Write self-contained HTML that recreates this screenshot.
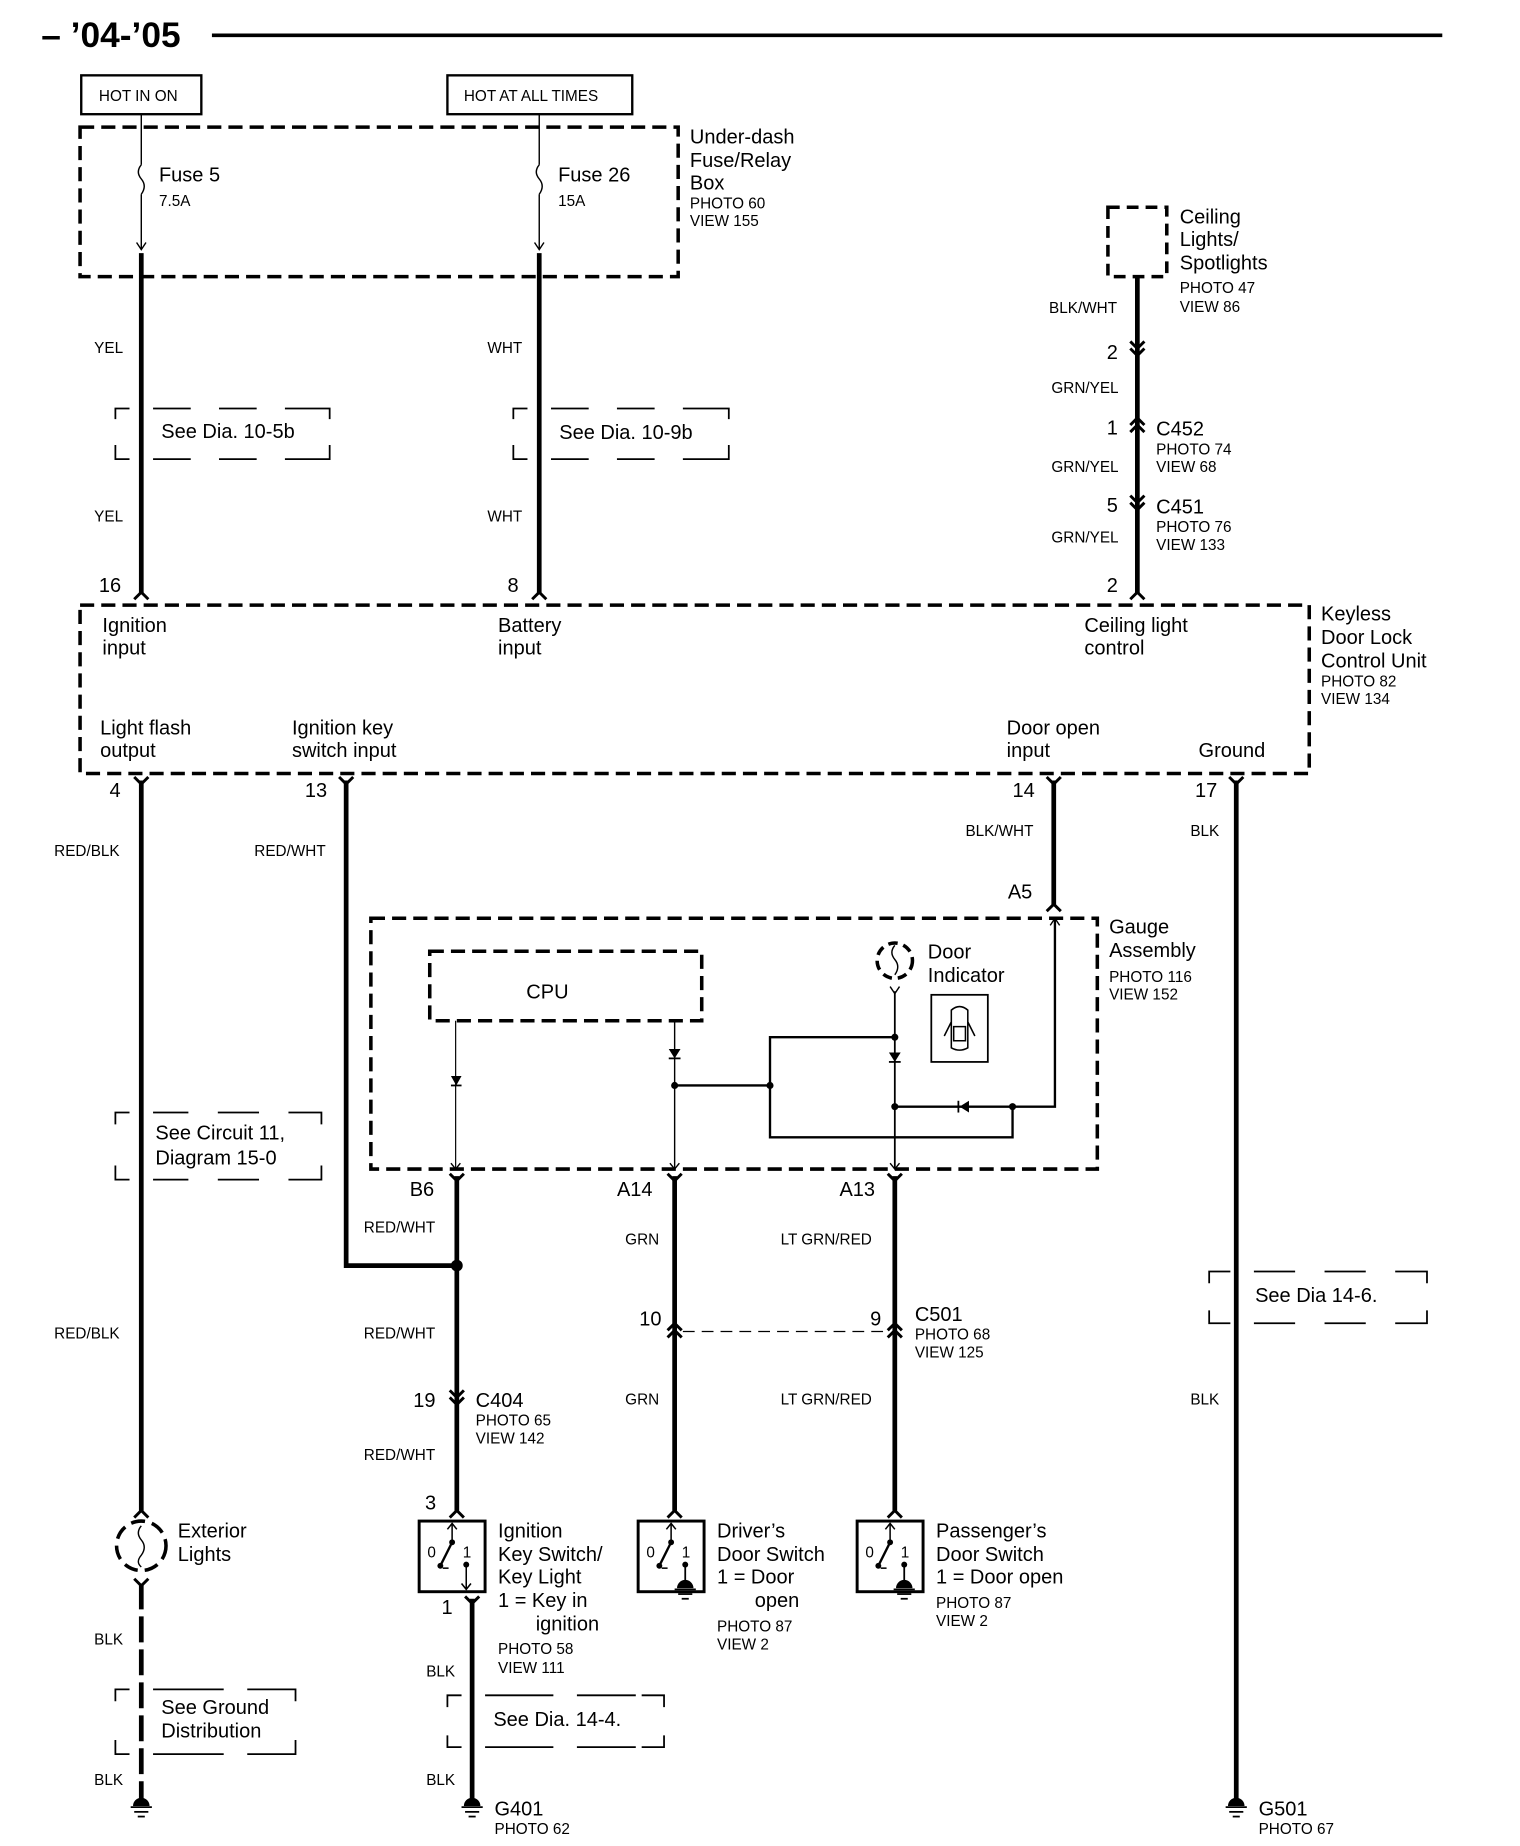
<!DOCTYPE html>
<html><head><meta charset="utf-8"><style>
html,body{margin:0;padding:0;background:#fff;}
svg{display:block}
text{font-family:"Liberation Sans",sans-serif;fill:#000}
.b{font-size:17px}.s{font-size:13px}
</style></head><body>
<svg width="1520" height="1846" viewBox="0 0 1291 1568" preserveAspectRatio="none" xmlns="http://www.w3.org/2000/svg">
<defs>
<path id="up" d="M-6,6 L0,0 L6,6" fill="none" stroke="#000" stroke-width="2.5"/>
<path id="dn" d="M-6,-6 L0,0 L6,-6" fill="none" stroke="#000" stroke-width="2.5"/>
<g id="gnd"><path d="M-7,6 A7,7 0 0 1 7,6 Z" fill="#000"/><line x1="-9" y1="7" x2="9" y2="7" stroke="#000" stroke-width="1.5"/><line x1="-6" y1="11" x2="6" y2="11" stroke="#000" stroke-width="1.5"/><line x1="-3" y1="15" x2="3" y2="15" stroke="#000" stroke-width="1.5"/></g>
<g id="sw"><rect x="-28" y="0" width="56" height="60" fill="none" stroke="#000" stroke-width="2.5"/><line x1="0" y1="2" x2="0" y2="18" stroke="#000" stroke-width="1.3"/><path d="M-4,7 L0,2 L4,7" fill="none" stroke="#000" stroke-width="1.3"/><circle cx="0" cy="18" r="2.5"/><line x1="0" y1="18" x2="-10" y2="38" stroke="#000" stroke-width="2"/><circle cx="-10" cy="38" r="2.5"/><line x1="-8" y1="40" x2="-3" y2="40" stroke="#000" stroke-width="1.3"/><circle cx="12" cy="37" r="2.5"/><text x="-21" y="31" class="s">0</text><text x="9" y="31" class="s">1</text></g>
</defs>
<g stroke="#000" fill="none">
<line x1="180" y1="30" x2="1225" y2="30" stroke-width="3"/>
<rect x="69" y="64" width="102" height="33" stroke-width="2"/>
<rect x="380" y="64" width="157" height="33" stroke-width="2"/>
<rect x="68" y="108" width="508" height="127" stroke-width="3" stroke-dasharray="12,6"/>
<line x1="120" y1="97" x2="120" y2="140" stroke-width="1.2"/><line x1="120" y1="165" x2="120" y2="212" stroke-width="1.2"/>
<path d="M120,140 q-5,6 0,12 q5,6 0,13" stroke-width="1.2"/>
<path d="M116,206 L120,212 L124,206" stroke-width="1.2"/>
<line x1="458" y1="97" x2="458" y2="140" stroke-width="1.2"/><line x1="458" y1="165" x2="458" y2="212" stroke-width="1.2"/>
<path d="M458,140 q-5,6 0,12 q5,6 0,13" stroke-width="1.2"/>
<path d="M454,206 L458,212 L462,206" stroke-width="1.2"/>
<line x1="120" y1="215" x2="120" y2="505" stroke-width="4"/>
<line x1="458" y1="215" x2="458" y2="505" stroke-width="4"/>
<path d="M98,356 V347 H110 M130,347 H162 M186,347 H218 M242,347 H280 V356 M98,378 V390 H110 M130,390 H162 M186,390 H218 M242,390 H280 V378" stroke-width="1.5"/>
<path d="M436,356 V347 H448 M468,347 H500 M524,347 H556 M580,347 H619 V356 M436,378 V390 H448 M468,390 H500 M524,390 H556 M580,390 H619 V378" stroke-width="1.5"/>
<rect x="941" y="176" width="50" height="59" stroke-width="3" stroke-dasharray="10,6"/>
<line x1="966" y1="235" x2="966" y2="505" stroke-width="4"/>
<rect x="68" y="514" width="1044" height="143" stroke-width="3" stroke-dasharray="12,6"/>
<line x1="120" y1="663" x2="120" y2="1283" stroke-width="4"/>
<line x1="120" y1="1345" x2="120" y2="1530" stroke-width="4" stroke-dasharray="22,6"/>
<path d="M294,663 V1075 H388" stroke-width="4"/>
<line x1="895" y1="663" x2="895" y2="770" stroke-width="4"/>
<line x1="1050" y1="663" x2="1050" y2="1530" stroke-width="4"/>
<rect x="315" y="780" width="617" height="213" stroke-width="3" stroke-dasharray="12,6"/>
<rect x="365" y="808" width="231" height="59" stroke-width="3" stroke-dasharray="12,6"/>
<line x1="387" y1="867" x2="387" y2="993" stroke-width="1"/>
<line x1="573" y1="867" x2="573" y2="993" stroke-width="1.2"/>
<line x1="760" y1="842" x2="760" y2="993" stroke-width="1.5"/>
<path d="M573,922 H654 V881 H760" stroke-width="2"/>
<path d="M654,922 V966 H860 V940 M760,940 H896 V780" stroke-width="2"/>
<path d="M383,988 L387,993 L391,988 M569,988 L573,993 L577,988 M756,988 L760,993 L764,988 M892,786 L896,780 L900,786 M756,838 L760,844 L764,838" stroke-width="1.2"/>
<circle cx="760" cy="816" r="15" stroke-width="3" stroke-dasharray="8,5"/>
<path d="M760,803 q-5,6 0,12 q5,6 0,13" stroke-width="1.2"/>
<rect x="791" y="845" width="48" height="57" stroke-width="1.5"/>
<path d="M808,858 q7,-6 14,0 v32 q-7,4 -14,0 Z M810,872 h10 v12 h-10 Z M808,868 l-6,12 M822,868 l6,12" stroke-width="1.3"/>
<line x1="388" y1="999" x2="388" y2="1283" stroke-width="4"/>
<line x1="573" y1="999" x2="573" y2="1283" stroke-width="4"/>
<line x1="760" y1="999" x2="760" y2="1283" stroke-width="4"/>
<line x1="580" y1="1131" x2="752" y2="1131" stroke-width="1" stroke-dasharray="10,6"/>
<line x1="401" y1="1358" x2="401" y2="1530" stroke-width="4"/>
<path d="M98,955 V945 H110 M130,945 H160 M185,945 H220 M245,945 H273 V955 M98,990 V1002 H110 M130,1002 H160 M185,1002 H220 M245,1002 H273 V990" stroke-width="1.5"/>
<path d="M1027,1090 V1080 H1045 M1065,1080 H1100 M1125,1080 H1160 M1185,1080 H1212 V1090 M1027,1113 V1124 H1045 M1065,1124 H1100 M1125,1124 H1160 M1185,1124 H1212 V1113" stroke-width="1.5"/>
<path d="M98,1445 V1435 H110 M130,1435 H190 M210,1435 H240 M240,1435 H251 V1445 M98,1478 V1490 H110 M130,1490 H190 M210,1490 H240 M240,1490 H251 V1478" stroke-width="1.5"/>
<path d="M380,1450 V1440 H392 M412,1440 H470 M490,1440 H540 M545,1440 H564 V1450 M380,1474 V1484 H392 M412,1484 H470 M490,1484 H540 M545,1484 H564 V1474" stroke-width="1.5"/>
<circle cx="120" cy="1313" r="21" stroke-width="3" stroke-dasharray="12,6"/>
<path d="M120,1296 q-5,6 0,12 q5,6 0,13 q-5,6 0,10" stroke-width="1.2"/>
</g>
<g fill="#000">
<circle cx="388" cy="1075" r="5"/>
<circle cx="573" cy="922" r="3"/><circle cx="654" cy="922" r="3"/><circle cx="760" cy="881" r="3"/><circle cx="760" cy="940" r="3"/><circle cx="860" cy="940" r="3"/>
<path d="M383,914 h9 l-4.5,8 z M568,891 h10 l-5,8 z M755,894 h10 l-5,8 z M815,940 l8,-5 v10 z"/>
<line x1="383" y1="922" x2="392" y2="922" stroke="#000" stroke-width="1.5"/>
<line x1="568" y1="899" x2="578" y2="899" stroke="#000" stroke-width="1.5"/>
<line x1="755" y1="902" x2="765" y2="902" stroke="#000" stroke-width="1.5"/>
<line x1="814" y1="935" x2="814" y2="945" stroke="#000" stroke-width="1.5"/>
</g>
<use href="#up" x="120" y="503"/><use href="#up" x="458" y="503"/><use href="#up" x="966" y="503"/>
<use href="#dn" x="966" y="296"/><use href="#dn" x="966" y="302"/>
<use href="#up" x="966" y="355"/><use href="#up" x="966" y="361"/>
<use href="#dn" x="966" y="427"/><use href="#dn" x="966" y="433"/>
<use href="#dn" x="120" y="666"/><use href="#dn" x="294" y="666"/><use href="#dn" x="895" y="666"/><use href="#dn" x="1050" y="666"/>
<use href="#dn" x="388" y="1003"/><use href="#dn" x="573" y="1003"/><use href="#dn" x="760" y="1003"/>
<use href="#up" x="895" y="768"/>
<use href="#up" x="573" y="1124"/><use href="#up" x="573" y="1130"/>
<use href="#up" x="760" y="1124"/><use href="#up" x="760" y="1130"/>
<use href="#dn" x="388" y="1187"/><use href="#dn" x="388" y="1193"/>
<use href="#up" x="120" y="1283"/><use href="#dn" x="120" y="1347"/>
<use href="#up" x="388" y="1283"/><use href="#up" x="573" y="1283"/><use href="#up" x="760" y="1283"/>
<use href="#dn" x="401" y="1362"/>
<use href="#sw" x="384" y="1292"/><use href="#sw" x="570" y="1292"/><use href="#sw" x="756" y="1292"/>
<line x1="396" y1="1329" x2="396" y2="1350" stroke="#000" stroke-width="1.3"/>
<path d="M392,1345 L396,1350 L400,1345" stroke="#000" fill="none" stroke-width="1.3"/>
<use href="#gnd" x="582" y="1343"/><use href="#gnd" x="768" y="1343"/>
<line x1="582" y1="1329" x2="582" y2="1345" stroke="#000" stroke-width="1.5"/><line x1="768" y1="1329" x2="768" y2="1345" stroke="#000" stroke-width="1.5"/>
<use href="#gnd" x="120" y="1528"/><use href="#gnd" x="401" y="1528"/><use href="#gnd" x="1050" y="1528"/>
<text x="35" y="40" style="font-size:30px;font-weight:bold">– ’04-’05</text>
<text x="84" y="86" class="s">HOT IN ON</text>
<text x="394" y="86" class="s">HOT AT ALL TIMES</text>
<text x="135" y="154" class="b">Fuse 5</text><text x="135" y="175" class="s">7.5A</text>
<text x="474" y="154" class="b">Fuse 26</text><text x="474" y="175" class="s">15A</text>
<text x="586" y="122" class="b">Under-dash</text><text x="586" y="142" class="b">Fuse/Relay</text><text x="586" y="161" class="b">Box</text>
<text x="586" y="177" class="s">PHOTO 60</text><text x="586" y="192" class="s">VIEW 155</text>
<text x="1002" y="190" class="b">Ceiling</text><text x="1002" y="209" class="b">Lights/</text><text x="1002" y="229" class="b">Spotlights</text>
<text x="1002" y="249" class="s">PHOTO 47</text><text x="1002" y="265" class="s">VIEW 86</text>
<text x="80" y="300" class="s">YEL</text><text x="80" y="443" class="s">YEL</text>
<text x="414" y="300" class="s">WHT</text><text x="414" y="443" class="s">WHT</text>
<text x="137" y="372" class="b">See Dia.  10-5b</text><text x="475" y="373" class="b">See Dia.  10-9b</text>
<text x="891" y="266" class="s">BLK/WHT</text>
<text x="940" y="305" class="b">2</text><text x="893" y="334" class="s">GRN/YEL</text>
<text x="940" y="369" class="b">1</text><text x="982" y="370" class="b">C452</text><text x="982" y="386" class="s">PHOTO 74</text><text x="982" y="401" class="s">VIEW 68</text>
<text x="893" y="401" class="s">GRN/YEL</text>
<text x="940" y="435" class="b">5</text><text x="982" y="436" class="b">C451</text><text x="982" y="452" class="s">PHOTO 76</text><text x="982" y="467" class="s">VIEW 133</text>
<text x="893" y="461" class="s">GRN/YEL</text>
<text x="84" y="503" class="b">16</text><text x="431" y="503" class="b">8</text><text x="940" y="503" class="b">2</text>
<text x="87" y="537" class="b">Ignition</text><text x="87" y="556" class="b">input</text>
<text x="423" y="537" class="b">Battery</text><text x="423" y="556" class="b">input</text>
<text x="921" y="537" class="b">Ceiling light</text><text x="921" y="556" class="b">control</text>
<text x="1122" y="527" class="b">Keyless</text><text x="1122" y="547" class="b">Door Lock</text><text x="1122" y="567" class="b">Control Unit</text>
<text x="1122" y="583" class="s">PHOTO 82</text><text x="1122" y="598" class="s">VIEW 134</text>
<text x="85" y="624" class="b">Light flash</text><text x="85" y="643" class="b">output</text>
<text x="248" y="624" class="b">Ignition key</text><text x="248" y="643" class="b">switch input</text>
<text x="855" y="624" class="b">Door open</text><text x="855" y="643" class="b">input</text>
<text x="1018" y="643" class="b">Ground</text>
<text x="93" y="677" class="b">4</text><text x="259" y="677" class="b">13</text><text x="860" y="677" class="b">14</text><text x="1015" y="677" class="b">17</text>
<text x="46" y="727" class="s">RED/BLK</text><text x="216" y="727" class="s">RED/WHT</text>
<text x="820" y="710" class="s">BLK/WHT</text><text x="1011" y="710" class="s">BLK</text>
<text x="856" y="763" class="b">A5</text>
<text x="942" y="793" class="b">Gauge</text><text x="942" y="813" class="b">Assembly</text><text x="942" y="834" class="s">PHOTO 116</text><text x="942" y="849" class="s">VIEW 152</text>
<text x="447" y="848" class="b">CPU</text>
<text x="788" y="814" class="b">Door</text><text x="788" y="834" class="b">Indicator</text>
<text x="132" y="968" class="b">See Circuit 11,</text><text x="132" y="989" class="b">Diagram 15-0</text>
<text x="348" y="1016" class="b">B6</text><text x="524" y="1016" class="b">A14</text><text x="713" y="1016" class="b">A13</text>
<text x="309" y="1047" class="s">RED/WHT</text><text x="531" y="1057" class="s">GRN</text><text x="663" y="1057" class="s">LT GRN/RED</text>
<text x="1066" y="1106" class="b">See Dia    14-6.</text>
<text x="46" y="1137" class="s">RED/BLK</text><text x="309" y="1137" class="s">RED/WHT</text>
<text x="543" y="1126" class="b">10</text><text x="739" y="1126" class="b">9</text>
<text x="777" y="1122" class="b">C501</text><text x="777" y="1138" class="s">PHOTO 68</text><text x="777" y="1153" class="s">VIEW 125</text>
<text x="531" y="1193" class="s">GRN</text><text x="663" y="1193" class="s">LT GRN/RED</text><text x="1011" y="1193" class="s">BLK</text>
<text x="351" y="1195" class="b">19</text><text x="404" y="1195" class="b">C404</text><text x="404" y="1211" class="s">PHOTO 65</text><text x="404" y="1226" class="s">VIEW 142</text>
<text x="309" y="1240" class="s">RED/WHT</text>
<text x="361" y="1282" class="b">3</text>
<text x="151" y="1306" class="b">Exterior</text><text x="151" y="1326" class="b">Lights</text>
<text x="423" y="1306" class="b">Ignition</text><text x="423" y="1326" class="b">Key Switch/</text><text x="423" y="1345" class="b">Key Light</text><text x="423" y="1365" class="b">1 = Key in</text><text x="455" y="1385" class="b">ignition</text>
<text x="423" y="1405" class="s">PHOTO 58</text><text x="423" y="1421" class="s">VIEW 111</text>
<text x="609" y="1306" class="b">Driver’s</text><text x="609" y="1326" class="b">Door Switch</text><text x="609" y="1345" class="b">1 = Door</text><text x="641" y="1365" class="b">open</text>
<text x="609" y="1386" class="s">PHOTO 87</text><text x="609" y="1401" class="s">VIEW 2</text>
<text x="795" y="1306" class="b">Passenger’s</text><text x="795" y="1326" class="b">Door Switch</text><text x="795" y="1345" class="b">1 = Door open</text>
<text x="795" y="1366" class="s">PHOTO 87</text><text x="795" y="1381" class="s">VIEW 2</text>
<text x="375" y="1371" class="b">1</text>
<text x="80" y="1397" class="s">BLK</text><text x="362" y="1424" class="s">BLK</text>
<text x="137" y="1456" class="b">See Ground</text><text x="137" y="1476" class="b">Distribution</text>
<text x="419" y="1466" class="b">See Dia.  14-4.</text>
<text x="80" y="1516" class="s">BLK</text><text x="362" y="1516" class="s">BLK</text>
<text x="420" y="1542" class="b">G401</text><text x="420" y="1558" class="s">PHOTO 62</text>
<text x="1069" y="1542" class="b">G501</text><text x="1069" y="1558" class="s">PHOTO 67</text>
</svg>
</body></html>
